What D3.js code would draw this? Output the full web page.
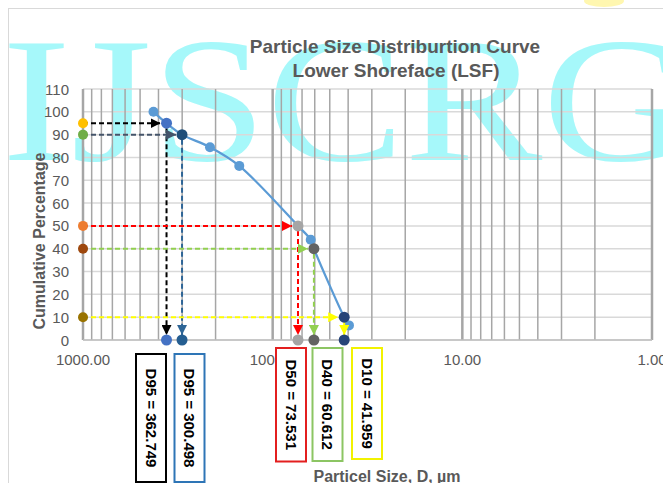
<!DOCTYPE html>
<html>
<head>
<meta charset="utf-8">
<script src="https://cdn.jsdelivr.net/npm/d3@7"></script>
<style>
body { margin: 0; background: #fff; overflow: hidden; }
text { font-family: "Liberation Sans", Arial, sans-serif; }
</style>
</head>
<body>
<div id="chart"></div>
<script>
// sieve results: size (µm) and cumulative percentage passing
const sizes = [425, 214, 150, 63, 39.6]
const cumulative = [100, 84.5, 76.3, 43.9, 6.4]

// characteristic diameters
const dNames = ["D95 = 362.749", "D95 = 300.498", "D50 = 73.531", "D40 = 60.612", "D10 = 41.959"]
const dSizes = [362.749, 300.498, 73.531, 60.612, 41.959]
const dPercents = [95, 90, 50, 40, 10]

const yTicks = [0, 10, 20, 30, 40, 50, 60, 70, 80, 90, 100, 110]
const xTicks = [1000, 100, 10, 1]

const width = 663,
    height = 483

// look of each D construction: dashes, markers, label box
const dStyle = [
    { h: "#000000", v: "#000000", left: "#FFC000", pt: "#4472C4", bottom: "#4472C4", box: "#000000", bx: 151, by: 354, bh: 128 },
    { h: "#44546A", v: "#2E6596", left: "#70AD47", pt: "#1F4E79", bottom: "#255E91", box: "#2E75B6", bx: 189.5, by: 354, bh: 128 },
    { h: "#FF0000", v: "#FF0000", left: "#ED7D31", pt: "#A5A5A5", bottom: "#A5A5A5", box: "#E31F1F", bx: 291, by: 348, bh: 113.5 },
    { h: "#92D050", v: "#92D050", left: "#9E480E", pt: "#636363", bottom: "#636363", box: "#8CC563", bx: 327.5, by: 348, bh: 113 },
    { h: "#FFFF00", v: "#FFFF00", left: "#997300", pt: "#264478", bottom: "#264478", box: "#F2F200", bx: 367, by: 348, bh: 111 }
]

var svg = d3.select("#chart")
    .append("svg")
    .attr("width", width)
    .attr("height", height)

var x = d3.scaleLog().domain([1000, 1]).range([83, 652])
var y = d3.scaleLinear().domain([0, 110]).range([340, 89])

// faint journal watermark behind the chart
svg.append("ellipse")
    .attr("cx", 604).attr("cy", 1).attr("rx", 20).attr("ry", 6)
    .attr("fill", "#FFF7B0")

svg.append("text")
    .attr("x", 2)
    .attr("y", 160)
    .style("font-family", "'Liberation Serif', 'DejaVu Serif', serif")
    .attr("font-size", 178)
    .attr("fill", "#5FF3F6")
    .attr("opacity", 0.55)
    .attr("textLength", 690)
    .attr("lengthAdjust", "spacingAndGlyphs")
    .text("IJSCRG")

svg.append("rect")
    .attr("x", 8.5).attr("y", 8.5)
    .attr("width", 720).attr("height", 520)
    .attr("fill", "none")
    .attr("stroke", "#D9D9D9")

// grid
var vLines = []
for (let dec = 1; dec < 1000; dec *= 10) {
    for (let m = 1; m < 10; m++) vLines.push(dec * m)
}
vLines.push(1000)

svg.append("g")
    .selectAll("line")
    .data(yTicks)
    .enter()
    .append("line")
    .attr("x1", x(1000)).attr("x2", x(1))
    .attr("y1", d => y(d)).attr("y2", d => y(d))
    .attr("stroke", "#D9D9D9")
    .attr("stroke-width", 1.5)

svg.append("g")
    .selectAll("line")
    .data(vLines)
    .enter()
    .append("line")
    .attr("x1", d => x(d)).attr("x2", d => x(d))
    .attr("y1", y(110)).attr("y2", y(0))
    .attr("stroke", "#A6A6A6")
    .attr("stroke-width", d => xTicks.indexOf(d) > -1 ? 2.5 : 1.5)

svg.append("line")
    .attr("x1", x(1000)).attr("x2", x(1))
    .attr("y1", y(0)).attr("y2", y(0))
    .attr("stroke", "#BFBFBF")
    .attr("stroke-width", 1.5)

// tick labels
svg.append("g")
    .selectAll("text")
    .data(yTicks)
    .enter()
    .append("text")
    .attr("x", 69)
    .attr("y", d => y(d) + 5.5)
    .attr("text-anchor", "end")
    .attr("font-size", 15)
    .attr("fill", "#595959")
    .text(d => d)

svg.append("g")
    .selectAll("text")
    .data(xTicks)
    .enter()
    .append("text")
    .attr("x", d => x(d))
    .attr("y", 365)
    .attr("text-anchor", "middle")
    .attr("font-size", 15)
    .attr("fill", "#595959")
    .text(d => d3.format(".2f")(d))

// titles
svg.append("text")
    .attr("x", 395).attr("y", 53)
    .attr("text-anchor", "middle")
    .attr("font-size", 19).attr("font-weight", "bold")
    .attr("fill", "#595959")
    .text("Particle Size Distriburtion Curve")
svg.append("text")
    .attr("x", 396).attr("y", 77)
    .attr("text-anchor", "middle")
    .attr("font-size", 19).attr("font-weight", "bold")
    .attr("fill", "#595959")
    .text("Lower Shoreface (LSF)")

svg.append("text")
    .attr("transform", "translate(45,241) rotate(-90)")
    .attr("text-anchor", "middle")
    .attr("font-size", 16).attr("font-weight", "bold")
    .attr("fill", "#595959")
    .text("Cumulative Percentage")

svg.append("text")
    .attr("x", 387).attr("y", 482)
    .attr("text-anchor", "middle")
    .attr("font-size", 16).attr("font-weight", "bold")
    .attr("fill", "#595959")
    .text("Particel Size, D, µm")

// arrow heads, one per colour
var defs = svg.append("defs")
var arrowColors = Array.from(new Set(dStyle.flatMap(s => [s.h, s.v])))
arrowColors.forEach(c => {
    defs.append("marker")
        .attr("id", "arrow" + c.slice(1))
        .attr("viewBox", "0 0 10 10")
        .attr("refX", 10).attr("refY", 5)
        .attr("markerWidth", 10).attr("markerHeight", 10)
        .attr("markerUnits", "userSpaceOnUse")
        .attr("orient", "auto")
        .append("path")
        .attr("d", "M0,0L10,5L0,10Z")
        .attr("fill", c)
})

// curve through the sieve points (and the read-off D points)
var curvePts = sizes.map((s, i) => [s, cumulative[i]])
    .concat(dSizes.map((s, i) => [s, dPercents[i]]))
    .sort((a, b) => b[0] - a[0])

svg.append("path")
    .datum(curvePts)
    .attr("fill", "none")
    .attr("stroke", "#5B9BD5")
    .attr("stroke-width", 2.25)
    .attr("d", d3.line()
        .x(d => x(d[0]))
        .y(d => y(d[1]))
        .curve(d3.curveCatmullRom))

svg.append("g")
    .selectAll("circle")
    .data(sizes)
    .enter()
    .append("circle")
    .attr("cx", d => x(d))
    .attr("cy", (d, i) => y(cumulative[i]))
    .attr("r", 5)
    .attr("fill", "#5B9BD5")

// D constructions
var dGroup = svg.append("g")
dSizes.forEach((s, i) => {
    var st = dStyle[i]
    var px = x(s), py = y(dPercents[i])
    dGroup.append("line")
        .attr("x1", x(1000)).attr("x2", px - 6)
        .attr("y1", py).attr("y2", py)
        .attr("stroke", st.h)
        .attr("stroke-width", 2)
        .attr("stroke-dasharray", "5,3")
        .attr("marker-end", "url(#arrow" + st.h.slice(1) + ")")
    dGroup.append("line")
        .attr("x1", px).attr("x2", px)
        .attr("y1", py + 5).attr("y2", y(0) - 5)
        .attr("stroke", st.v)
        .attr("stroke-width", 2)
        .attr("stroke-dasharray", "5,3")
        .attr("marker-end", "url(#arrow" + st.v.slice(1) + ")")
    dGroup.append("circle")
        .attr("cx", x(1000)).attr("cy", py).attr("r", 5)
        .attr("fill", st.left)
    dGroup.append("circle")
        .attr("cx", px).attr("cy", py).attr("r", 5.5)
        .attr("fill", st.pt)
    dGroup.append("circle")
        .attr("cx", px).attr("cy", y(0)).attr("r", 5.5)
        .attr("fill", st.bottom)
})

// label boxes under the axis
var boxes = svg.append("g")
    .selectAll("g")
    .data(dNames)
    .enter()
    .append("g")
    .attr("transform", (d, i) => `translate(${dStyle[i].bx},${dStyle[i].by})`)

boxes.append("rect")
    .attr("x", -15)
    .attr("width", 30)
    .attr("height", (d, i) => dStyle[i].bh)
    .attr("fill", "#fff")
    .attr("stroke", (d, i) => dStyle[i].box)
    .attr("stroke-width", 2)

boxes.append("text")
    .attr("transform", (d, i) => `translate(0,${dStyle[i].bh / 2}) rotate(90)`)
    .attr("text-anchor", "middle")
    .attr("dy", "0.35em")
    .attr("font-size", 15)
    .attr("font-weight", "bold")
    .attr("fill", "#000")
    .text(d => d)
</script>
</body>
</html>
